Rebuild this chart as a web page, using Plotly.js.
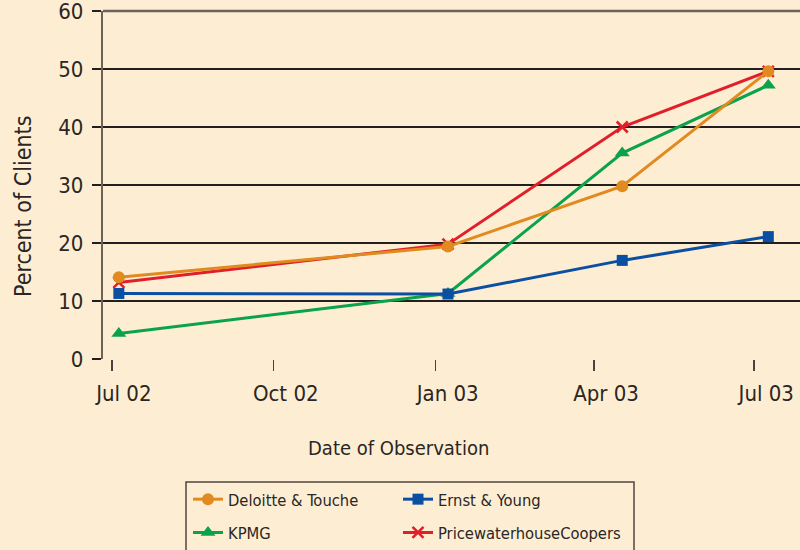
<!DOCTYPE html>
<html>
<head>
<meta charset="utf-8">
<script src="https://cdn.plot.ly/plotly-3.0.1.min.js"></script>
<style>
html,body{margin:0;padding:0;background:#fdeed3;}
#chart{width:800px;height:550px;}
</style>
</head>
<body>
<div id="chart"></div>
<script>
// Observation dates (approximate positions)
const dates = ['2002-07-05', '2003-01-08', '2003-04-17', '2003-07-09'];
const deloitte = [14.1, 19.4, 29.8, 49.6];
const ernst = [11.3, 11.2, 17.0, 21.1];
const kpmg = [4.4, 11.3, 35.5, 47.2];
const pwc = [13.2, 19.8, 40.0, 49.6];
const seriesNames = ['Deloitte & Touche', 'Ernst & Young', 'KPMG', 'PricewaterhouseCoopers'];
const tickDates = ['2002-07-01', '2002-10-01', '2003-01-01', '2003-04-01', '2003-07-01'];
const tickLabels = ['Jul 02', 'Oct 02', 'Jan 03', 'Apr 03', 'Jul 03'];
const yTicks = [0, 10, 20, 30, 40, 50, 60];

const FONT = '"Liberation Sans Narrow", "DejaVu Sans Condensed", "Arial Narrow", sans-serif';
const TXT = '#2b2623';

const traces = [
  {x: dates, y: pwc, name: seriesNames[3], legend: 'legend2', legendgroup: 'd', legendrank: 2, mode: 'lines+markers',
   line: {color: '#e01f2a', width: 3},
   marker: {symbol: 'x-thin', size: 11, color: '#e01f2a', line: {color: '#e01f2a', width: 2.5}}},
  {x: dates, y: kpmg, name: seriesNames[2], legend: 'legend', legendgroup: 'c', legendrank: 2, mode: 'lines+markers',
   line: {color: '#0aa34c', width: 3},
   marker: {symbol: 'triangle-up', size: 13, color: '#0aa34c'}},
  {x: dates, y: deloitte, name: seriesNames[0], legend: 'legend', legendgroup: 'a', legendrank: 1, mode: 'lines+markers',
   line: {color: '#e08a1f', width: 3},
   marker: {symbol: 'circle', size: 12, color: '#e08a1f'}},
  {x: dates, y: ernst, name: seriesNames[1], legend: 'legend2', legendgroup: 'b', legendrank: 1, mode: 'lines+markers',
   line: {color: '#0b4fa3', width: 3},
   marker: {symbol: 'square', size: 11, color: '#0b4fa3'}}
];

const PX = v => (v - 103) / 697;   // helper: page px -> paper x
const PY = v => (359 - v) / 348;   // helper: page px -> paper y

const legendBase = {
  orientation: 'v', yanchor: 'top', xanchor: 'left',
  bgcolor: 'rgba(0,0,0,0)', borderwidth: 0, tracegroupgap: 9,
  font: {family: FONT, size: 16.4, color: TXT}, traceorder: 'grouped'
};

const layout = {
  width: 800, height: 550,
  paper_bgcolor: '#fdeed3', plot_bgcolor: '#fdeed3',
  margin: {l: 103, r: 0, t: 11, b: 191, autoexpand: false},
  font: {family: FONT, color: TXT, size: 22},
  showlegend: true,
  xaxis: {
    type: 'date', range: ['2002-06-26', '2003-07-27'],
    tickmode: 'array', tickvals: tickDates, ticktext: tickLabels,
    ticks: 'outside', ticklen: 11, tickwidth: 1.5, tickcolor: '#4a423c',
    ticklabelshift: 12, ticklabelstandoff: 4,
    showgrid: false, zeroline: false, showline: false,
    tickfont: {family: FONT, size: 22, color: TXT}
  },
  yaxis: {
    range: [0, 60], tickvals: yTicks,
    ticks: 'outside', ticklen: 9, tickwidth: 1.5, tickcolor: '#231f20',
    showgrid: true, gridcolor: '#231f20', gridwidth: 1.6,
    showline: true, linecolor: '#6d6259', linewidth: 2.2,
    zeroline: false, ticklabelstandoff: 4, ticklabeloverflow: 'allow',
    tickfont: {family: FONT, size: 22, color: TXT}
  },
  shapes: [
    {type: 'line', xref: 'paper', yref: 'paper', x0: 0, x1: 1, y0: 1, y1: 1,
     line: {color: '#6d6259', width: 2.5}},
    {type: 'rect', xref: 'paper', yref: 'paper', x0: PX(186), x1: PX(634), y0: PY(482), y1: PY(565),
     line: {color: '#4d4540', width: 1.5}, fillcolor: 'rgba(0,0,0,0)'}
  ],
  annotations: [
    {text: 'Date of Observation', xref: 'paper', yref: 'paper', x: PX(398), y: PY(448),
     xanchor: 'center', yanchor: 'middle', showarrow: false, font: {family: FONT, size: 20, color: TXT}},
    {text: 'Percent of Clients', xref: 'paper', yref: 'paper', x: PX(23), y: PY(206),
     xanchor: 'center', yanchor: 'middle', textangle: -90, showarrow: false, font: {family: FONT, size: 23, color: TXT}}
  ],
  legend: Object.assign({}, legendBase, {x: PX(188), y: PY(482)}),
  legend2: Object.assign({}, legendBase, {x: PX(398), y: PY(482)})
};

Plotly.newPlot('chart', traces, layout, {displayModeBar: false, staticPlot: true});
</script>
</body>
</html>
